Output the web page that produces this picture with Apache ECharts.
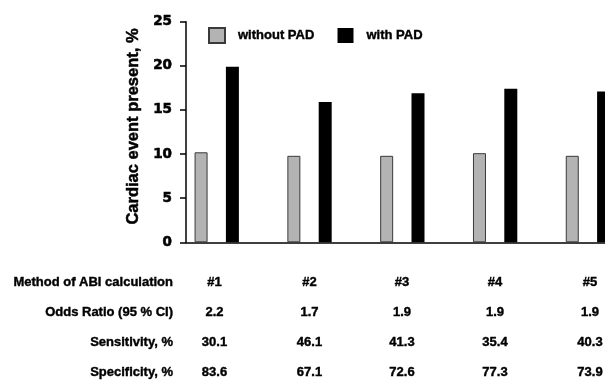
<!DOCTYPE html>
<html>
<head>
<meta charset="utf-8">
<script src="https://cdn.jsdelivr.net/npm/echarts@6/dist/echarts.min.js"></script>
<style>
html,body{margin:0;padding:0;background:#fff;}
#chart{width:605px;height:381px;}
</style>
</head>
<body>
<div id="chart"></div>
<script>
// ---- data ----
const methods = ['#1', '#2', '#3', '#4', '#5'];
const withoutPAD = [10.2, 9.8, 9.8, 10.1, 9.8];
const withPAD = [19.9, 15.9, 16.9, 17.4, 17.1];
const emptySlot = ['-', '-', '-', '-', '-'];
const yTicks = [0, 5, 10, 15, 20, 25];
const oddsRatio = ['2.2', '1.7', '1.9', '1.9', '1.9'];
const sensitivity = ['30.1', '46.1', '41.3', '35.4', '40.3'];
const specificity = ['83.6', '67.1', '72.6', '77.3', '73.9'];
const rowLabels = ['Method of ABI calculation', 'Odds Ratio (95 % CI)', 'Sensitivity, %', 'Specificity, %'];

// ---- layout ----
const tableRows = [methods, oddsRatio, sensitivity, specificity];
const rowY = [282, 312, 342.5, 372.5];
const colX = [214.5, 309.5, 402, 495, 590];
const tableFont = 'bold 13px "Liberation Sans", Arial, sans-serif';

const graphics = [];
rowLabels.forEach((lab, r) => {
  graphics.push({
    type: 'text', x: 173, y: rowY[r],
    style: { text: lab, font: tableFont, fill: '#000', stroke: '#000', lineWidth: 0.4,
             align: 'right', verticalAlign: 'middle' }
  });
  tableRows[r].forEach((v, c) => {
    graphics.push({
      type: 'text', x: colX[c], y: rowY[r],
      style: { text: v, font: tableFont, fill: '#000', stroke: '#000', lineWidth: 0.4,
               align: 'center', verticalAlign: 'middle' }
    });
  });
});
graphics.push({
  type: 'text', x: 133, y: 126.5, rotation: Math.PI / 2,
  style: { text: 'Cardiac event present, %', font: 'bold 16.5px "Liberation Sans", Arial, sans-serif',
           fill: '#000', stroke: '#000', lineWidth: 0.5, align: 'center', verticalAlign: 'middle' }
});

const chart = echarts.init(document.getElementById('chart'), null, { renderer: 'canvas' });
chart.setOption({
  animation: false,
  backgroundColor: '#fff',
  grid: { left: 186, top: 21.7, width: 464, height: 220.6, containLabel: false, outerBoundsMode: 'none' },
  legend: {
    data: ['without PAD', 'with PAD'],
    left: 203, top: 22,
    itemWidth: 16, itemHeight: 15, itemGap: 23,
    icon: 'rect',
    textStyle: { fontFamily: '"Liberation Sans", Arial, sans-serif', fontWeight: 'bold', fontSize: 13,
                 color: '#000', textBorderColor: '#000', textBorderWidth: 0.4, padding: [0, 0, 0, 8] }
  },
  xAxis: {
    type: 'category', data: methods,
    axisLine: { lineStyle: { color: '#000', width: 1.5 } },
    axisTick: { show: false },
    axisLabel: { show: false }
  },
  yAxis: {
    type: 'value', min: yTicks[0], max: yTicks[yTicks.length - 1], interval: 5,
    axisLine: { show: true, lineStyle: { color: '#000', width: 1.5 } },
    axisTick: { show: true, length: 6, lineStyle: { color: '#000', width: 1.5 } },
    splitLine: { show: false },
    axisLabel: { margin: 14, color: '#000', fontFamily: '"DejaVu Sans", sans-serif',
                 fontWeight: 'bold', fontSize: 13.5, textBorderColor: '#000', textBorderWidth: 0.6 }
  },
  series: [
    { name: 'without PAD', type: 'bar', data: withoutPAD, barWidth: 13, barGap: '141%',
      itemStyle: { color: '#b3b3b3', borderColor: '#3a3a3a', borderWidth: 1 } },
    { name: 'with PAD', type: 'bar', data: withPAD, barWidth: 13,
      itemStyle: { color: '#000' } },
    { name: 'spacer', type: 'bar', data: emptySlot, barWidth: 13, silent: true }
  ],
  graphic: graphics
});
</script>
</body>
</html>
